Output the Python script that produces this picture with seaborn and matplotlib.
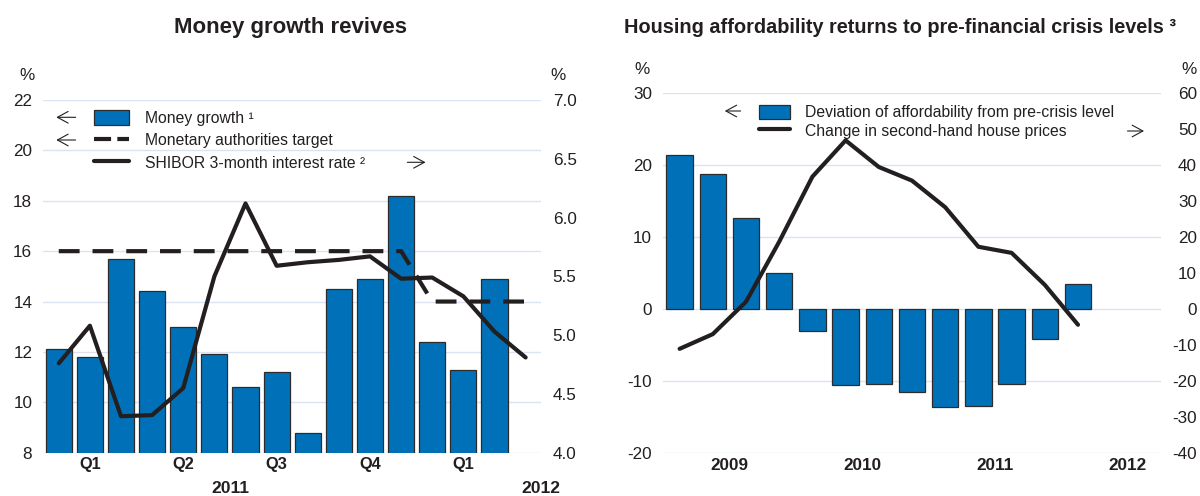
import numpy as np
import pandas as pd
import matplotlib
matplotlib.use("Agg")
import matplotlib.pyplot as plt
import matplotlib.transforms as mtransforms
from matplotlib.patches import Patch, FancyArrowPatch
from matplotlib.lines import Line2D
import seaborn as sns

# ---------------- data ----------------
# Left panel: monthly, January 2011 to April 2012
months = ["Jan-11", "Feb-11", "Mar-11", "Apr-11", "May-11", "Jun-11", "Jul-11", "Aug-11",
          "Sep-11", "Oct-11", "Nov-11", "Dec-11", "Jan-12", "Feb-12", "Mar-12", "Apr-12"]
money_growth = [12.1, 11.8, 15.7, 14.4, 13.0, 11.9, 10.6, 11.2, 8.8, 14.5, 14.9, 18.2,
                12.4, 11.3, 14.9]
money_target = [16, 16, 16, 16, 16, 16, 16, 16, 16, 16, 16, 16, 14, 14, 14, 14]
shibor_3m = [4.76, 5.08, 4.31, 4.32, 4.55, 5.50, 6.12, 5.59, 5.62, 5.64, 5.67, 5.48,
             5.49, 5.33, 5.03, 4.81]
quarter_labels = ["Q1", "Q2", "Q3", "Q4", "Q1"]
left_years = ["2011", "2012"]

# Right panel: quarterly, 2009Q1 to 2012Q3
quarters = ["2009Q1", "2009Q2", "2009Q3", "2009Q4", "2010Q1", "2010Q2", "2010Q3", "2010Q4",
            "2011Q1", "2011Q2", "2011Q3", "2011Q4", "2012Q1", "2012Q2", "2012Q3"]
affordability_dev = [21.4, 18.8, 12.7, 5.0, -3.1, -10.6, -10.4, -11.5, -13.7, -13.5,
                     -10.5, -4.2, 3.5]
second_hand_prices = [-11.1, -7.0, 2.0, 18.7, 36.8, 46.9, 39.5, 35.7, 28.3, 17.3, 15.6,
                      6.7, -4.4]
right_years = ["2009", "2010", "2011", "2012"]

# ---------------- style ----------------
sns.set_theme(style="white")
plt.rcParams["font.family"] = ["Liberation Sans", "DejaVu Sans"]
plt.rcParams["axes.unicode_minus"] = False

BLUE = "#0071b9"
EDGE = "#2b2b2b"
INK = "#231f20"
GRID = "#dbe2f1"
TICK_FS = 12.3
LEG_FS = 11.3
TARGET_DASH = (0, (5.0, 3.1))

W, H = 1200, 496
fig = plt.figure(figsize=(W / 100, H / 100), dpi=100)


def fx(x):
    return x / W


def fy(y):
    return 1 - y / H


ax1 = fig.add_axes([fx(43.2), fy(452.7), 498 / W, (452.7 - 100) / H])
ax3 = fig.add_axes([fx(663), fy(452.7), 498 / W, (452.7 - 93.3) / H])

# ---------------- left panel ----------------
df_m = pd.DataFrame({"pos": np.arange(len(money_growth)), "growth": money_growth})
sns.barplot(data=df_m, x="pos", y="growth", native_scale=True, ax=ax1, color=BLUE,
            saturation=1, edgecolor=EDGE, linewidth=0.9, width=0.84, zorder=2)
df_t = pd.DataFrame({"pos": np.arange(len(money_target)), "target": money_target,
                     "shibor": shibor_3m})
sns.lineplot(data=df_t, x="pos", y="target", ax=ax1, color=INK, linewidth=3.0,
             linestyle=TARGET_DASH, zorder=4)
ax1.set_ylim(8, 22)
ax1.set_xlim(-0.5, 15.5)
ax1.set_yticks([8, 10, 12, 14, 16, 18, 20, 22])

ax2 = ax1.twinx()
sns.lineplot(data=df_t, x="pos", y="shibor", ax=ax2, color=INK, linewidth=3.0, zorder=4)
ax2.set_ylim(4.0, 7.0)
ax2.set_yticks(np.arange(4.0, 7.01, 0.5))
ax2.set_yticklabels([f"{v:.1f}" for v in np.arange(4.0, 7.01, 0.5)])

# ---------------- right panel ----------------
df_h = pd.DataFrame({"pos": np.arange(len(affordability_dev)), "dev": affordability_dev,
                     "prices": second_hand_prices})
sns.barplot(data=df_h, x="pos", y="dev", native_scale=True, ax=ax3, color=BLUE,
            saturation=1, edgecolor=EDGE, linewidth=0.9, width=0.8, zorder=2)
ax3.set_ylim(-20, 30)
ax3.set_xlim(-0.5, len(quarters) - 0.5)
ax3.set_yticks([-20, -10, 0, 10, 20, 30])

ax4 = ax3.twinx()
sns.lineplot(data=df_h, x="pos", y="prices", ax=ax4, color=INK, linewidth=3.0, zorder=4)
ax4.set_ylim(-40, 60)
ax4.set_yticks([-40, -30, -20, -10, 0, 10, 20, 30, 40, 50, 60])

# ---------------- axes cosmetics ----------------
for a in (ax1, ax2, ax3, ax4):
    for s in a.spines.values():
        s.set_visible(False)
    a.set_xlabel("")
    a.set_ylabel("")
    a.patch.set_visible(False)
    a.tick_params(axis="y", length=0, labelsize=TICK_FS, colors=INK)

for a in (ax1, ax3):
    a.grid(axis="y", color=GRID, linewidth=1.0, zorder=0)
    a.grid(axis="x", visible=False)
    a.set_axisbelow(True)
    a.tick_params(axis="y", pad=7.8)
for a in (ax2, ax4):
    a.grid(False)

ax2.tick_params(axis="y", pad=8.3)
ax4.tick_params(axis="y", pad=26.0)
for lab in ax4.get_yticklabels():
    lab.set_horizontalalignment("right")

# slot-boundary ticks on the category axes
ax1.set_xticks([-0.5, 11.5])
ax1.set_xticks(np.arange(-0.5, 16, 1.0), minor=True)
ax1.tick_params(axis="x", which="major", direction="in", length=9, width=0.9,
                color="#555555", labelbottom=False)
ax1.tick_params(axis="x", which="minor", direction="in", length=3.5, width=0.9,
                color="#555555", labelbottom=False)
ax3.set_xticks([-0.5, 3.5, 7.5, 11.5])
ax3.set_xticks(np.arange(-0.5, 15, 1.0), minor=True)
ax3.tick_params(axis="x", which="major", direction="in", length=6.8, width=0.9,
                color="#555555", labelbottom=False)
ax3.tick_params(axis="x", which="minor", direction="in", length=2.5, width=0.9,
                color="#555555", labelbottom=False)
for a in (ax2, ax4):
    a.tick_params(axis="x", which="both", length=0, labelbottom=False)

# category labels under the axes
t1 = mtransforms.blended_transform_factory(ax1.transData, fig.transFigure)
for q, xq in zip(quarter_labels, [1, 4, 7, 10, 13]):
    ax1.text(xq, fy(465), q, transform=t1, ha="center", va="center",
             fontsize=11.8, fontweight="bold", color=INK)
for yr, xy in zip(left_years, [5.5, 15.5]):
    ax1.text(xy, fy(488.5), yr, transform=t1, ha="center", va="center",
             fontsize=12.6, fontweight="bold", color=INK, clip_on=False)

t3 = mtransforms.blended_transform_factory(ax3.transData, fig.transFigure)
for yr, xy in zip(right_years, [1.5, 5.5, 9.5, 13.5]):
    ax3.text(xy, fy(465), yr, transform=t3, ha="center", va="center",
             fontsize=12.3, fontweight="bold", color=INK)

# titles and unit labels
fig.text(fx(290), fy(33.3), "Money growth revives", ha="center", va="baseline",
         fontsize=16, fontweight="bold", color=INK)
fig.text(fx(900), fy(33.3), "Housing affordability returns to pre-financial crisis levels \u00b3",
         ha="center", va="baseline", fontsize=14.3, fontweight="bold", color=INK)
for xp, yp in [(27.5, 75), (558, 75), (642, 70), (1189, 70)]:
    fig.text(fx(xp), fy(yp), "%", ha="center", va="center", fontsize=TICK_FS, color=INK)

# ---------------- legends ----------------
leg1_handles = [
    Patch(facecolor=BLUE, edgecolor=EDGE, linewidth=0.9),
    Line2D([], [], color=INK, linewidth=3.0, linestyle=(0, (4.1, 1.5))),
    Line2D([], [], color=INK, linewidth=3.0),
]
leg1_labels = ["Money growth \u00b9", "Monetary authorities target",
               "SHIBOR 3-month interest rate \u00b2"]
leg1 = ax1.legend(leg1_handles, leg1_labels, loc="upper left",
                  bbox_to_anchor=(fx(93.7), fy(110)), bbox_transform=fig.transFigure,
                  frameon=False, fontsize=LEG_FS, handlelength=2.27, handleheight=1.1,
                  handletextpad=0.97, labelspacing=0.42, borderpad=0, borderaxespad=0)
for txt in leg1.get_texts():
    txt.set_color(INK)

leg2_handles = [
    Patch(facecolor=BLUE, edgecolor=EDGE, linewidth=0.9),
    Line2D([], [], color=INK, linewidth=3.0),
]
leg2_labels = ["Deviation of affordability from pre-crisis level",
               "Change in second-hand house prices"]
leg2 = ax4.legend(leg2_handles, leg2_labels, loc="upper left",
                  bbox_to_anchor=(fx(758.7), fy(105)), bbox_transform=fig.transFigure,
                  frameon=False, fontsize=LEG_FS, handlelength=2.02, handleheight=0.96,
                  handletextpad=0.9, labelspacing=0.2, borderpad=0, borderaxespad=0)
for txt in leg2.get_texts():
    txt.set_color(INK)


# axis-side arrows next to the legend entries
def arrow(x0, x1, y):
    fig.add_artist(FancyArrowPatch(
        (fx(x0), fy(y)), (fx(x1), fy(y)), transform=fig.transFigure,
        arrowstyle="->,head_length=0.55,head_width=0.3", mutation_scale=14,
        linewidth=0.8, color=INK))


arrow(78.4, 53.5, 117.3)
arrow(78.4, 53.5, 140)
arrow(404.6, 428.3, 162.3)
arrow(743.4, 722, 111)
arrow(1124.7, 1146.8, 131)

fig.savefig("out.png", dpi=100)
